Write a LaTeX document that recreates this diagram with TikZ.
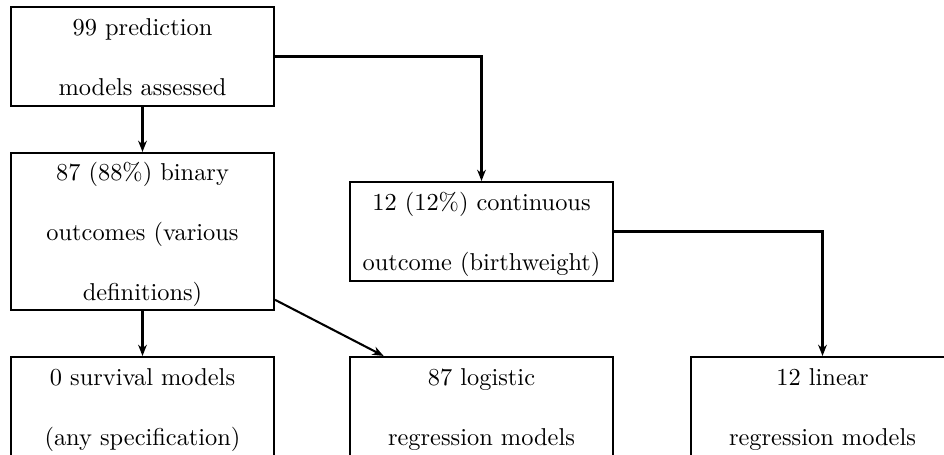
\documentclass[tikz,border=0pt]{standalone}
\usetikzlibrary{arrows.meta}
\newcommand\lnstrut{\rule[-2.5pt]{0pt}{12pt}}
\begin{document}
\begin{tikzpicture}[x=0.41pt,y=-0.41pt,
  box/.style={draw,line width=0.85pt,minimum width=107.8pt,inner sep=0pt,
    text width=104pt,align=center,font={\baselineskip=24.6pt}},
  two/.style={box,minimum height=40.6pt},
  three/.style={box,minimum height=64.4pt},
  conn/.style={line width=0.85pt,-{Stealth[length=4.6pt,width=3.6pt]}}]
\clip (0,0) rectangle (944,455);
\node[two] (b1) at (142.5,56.5) {\lnstrut 99 prediction\\\lnstrut models assessed};
\node[three] (b2) at (142.5,231.5) {\lnstrut 87 (88\%) binary\\\lnstrut outcomes (various\\\lnstrut definitions)};
\node[two] (b3) at (481.5,231.5) {\lnstrut 12 (12\%) continuous\\\lnstrut outcome (birthweight)};
\node[two] (b4) at (142.5,406.5) {\lnstrut 0 survival models\\\lnstrut (any specification)};
\node[two] (b5) at (481.5,406.5) {\lnstrut 87 logistic\\\lnstrut regression models};
\node[two] (b6) at (822.5,406.5) {\lnstrut 12 linear\\\lnstrut regression models};
\draw[conn] (b1) -- (b2);
\draw[conn] (b1.east) -| (b3.north);
\draw[conn] (b2) -- (b4);
\draw[conn] (b2) -- (b5);
\draw[conn] (b3.east) -| (b6.north);
\end{tikzpicture}
\end{document}
